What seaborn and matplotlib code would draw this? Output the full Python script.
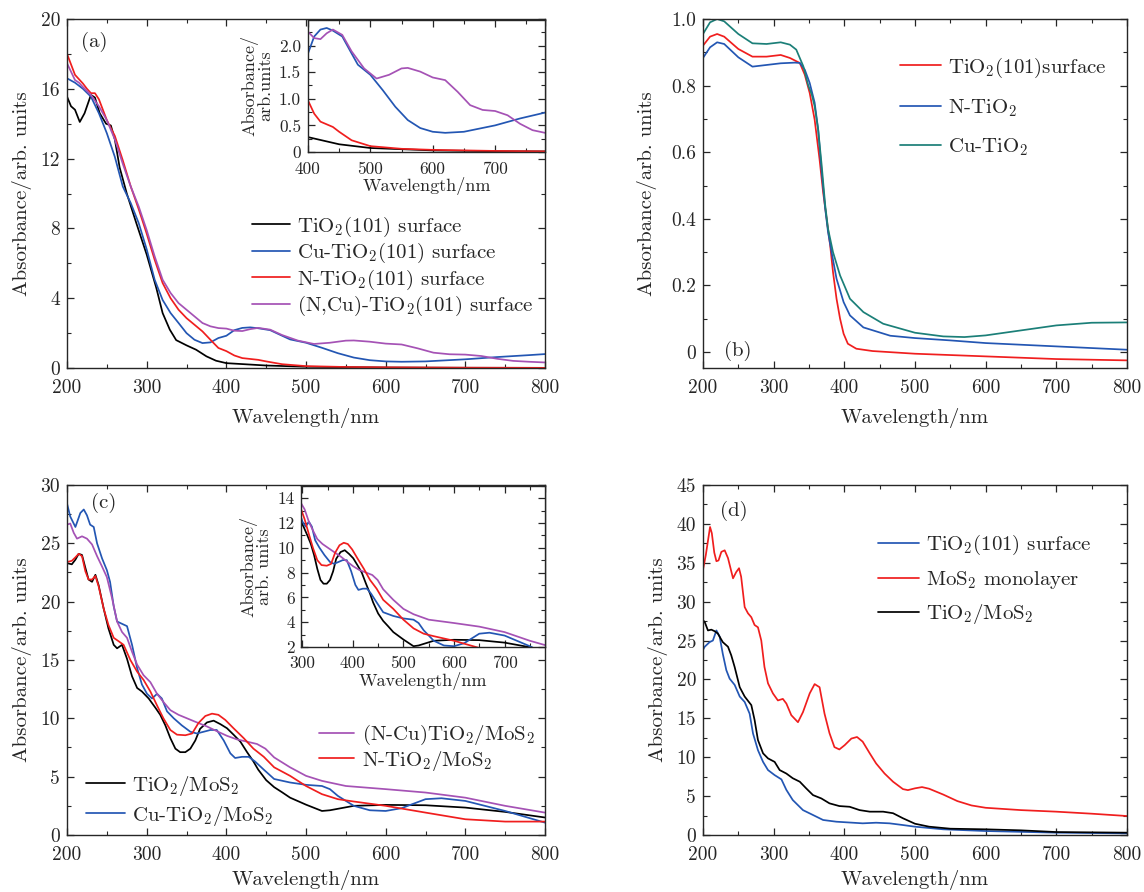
import numpy as np
import pandas as pd
import matplotlib
matplotlib.use("Agg")
import matplotlib.pyplot as plt
import seaborn as sns
from matplotlib.ticker import MultipleLocator, FuncFormatter

# ---------------- data: panel (a) ----------------
a_wl_black = [200, 205, 210, 216, 222, 230, 235, 241, 249, 255, 260, 266, 275, 287, 300, 312, 320, 329, 337, 350,
              362, 375, 387, 400, 450, 500, 600, 700, 800]
a_black = [15.55, 15.0, 14.8, 14.1, 14.6, 15.65, 15.5, 14.6, 14.0, 13.9, 13.1, 11.5, 10.0, 8.3, 6.5, 4.6, 3.15, 2.2,
           1.6, 1.3, 1.05, 0.67, 0.42, 0.28, 0.145, 0.075, 0.03, 0.015, 0.01]

a_wl_red = [200, 210, 220, 225, 230, 235, 240, 250, 260, 270, 280, 290, 300, 310, 320, 330, 340, 350, 360, 370, 380,
            390, 400, 410, 420, 440, 450, 470, 500, 550, 600, 700, 800]
a_red = [18.0, 16.8, 16.3, 16.0, 15.75, 15.75, 15.4, 14.2, 13.3, 11.9, 10.4, 9.1, 7.7, 6.2, 4.87, 4.0, 3.34, 2.86,
         2.48, 2.1, 1.62, 1.15, 0.97, 0.72, 0.57, 0.47, 0.38, 0.22, 0.11, 0.06, 0.04, 0.02, 0.01]

a_wl_blue = [200, 210, 220, 230, 240, 250, 260, 270, 280, 290, 300, 310, 320, 330, 340, 350, 360, 370, 380, 390, 400,
             410, 420, 430, 440, 455, 470, 480, 500, 520, 540, 560, 580, 600, 620, 650, 700, 740, 780, 800]
a_blue = [16.6, 16.35, 16.0, 15.55, 14.6, 13.45, 12.1, 10.4, 9.45, 8.3, 6.8, 5.06, 3.9, 3.15, 2.58, 2.0, 1.62, 1.43,
          1.47, 1.72, 1.85, 2.17, 2.30, 2.33, 2.28, 2.17, 1.85, 1.64, 1.45, 1.16, 0.85, 0.60, 0.45, 0.38, 0.36, 0.38,
          0.50, 0.63, 0.74, 0.80]

a_wl_purple = [200, 210, 215, 220, 230, 240, 250, 260, 270, 280, 290, 300, 310, 320, 330, 340, 350, 360, 370, 380,
               390, 400, 410, 420, 430, 440, 455, 470, 490, 510, 530, 550, 560, 580, 600, 620, 640, 660, 680, 700,
               720, 740, 760, 780, 800]
a_purple = [17.46, 16.5, 16.35, 16.1, 15.65, 15.0, 14.2, 13.1, 11.7, 10.4, 9.25, 7.9, 6.4, 5.06, 4.3, 3.72, 3.34,
            2.96, 2.58, 2.39, 2.29, 2.26, 2.14, 2.12, 2.23, 2.30, 2.2, 1.89, 1.57, 1.38, 1.45, 1.57, 1.58, 1.51, 1.40,
            1.35, 1.13, 0.88, 0.79, 0.77, 0.69, 0.53, 0.41, 0.36, 0.32]

a_labels = ["TiO$_2$(101) surface", "Cu-TiO$_2$(101) surface", "N-TiO$_2$(101) surface",
            "(N,Cu)-TiO$_2$(101) surface"]

# ---------------- data: panel (b) ----------------
b_wl_red = [200, 210, 220, 230, 250, 270, 290, 310, 323, 337, 344, 351, 358, 365, 370, 375, 380, 384, 389, 394, 399,
            405, 417, 440, 500, 600, 700, 800]
b_red = [0.92, 0.947, 0.955, 0.947, 0.91, 0.887, 0.887, 0.892, 0.883, 0.868, 0.833, 0.778, 0.698, 0.578, 0.48, 0.40,
         0.32, 0.24, 0.16, 0.10, 0.055, 0.025, 0.01, 0.003, -0.005, -0.013, -0.021, -0.025]

b_wl_blue = [200, 210, 220, 230, 250, 270, 290, 310, 330, 337, 344, 351, 358, 363, 368, 373, 377, 382, 389, 399, 408,
             427, 465, 500, 550, 600, 700, 800]
b_blue = [0.883, 0.915, 0.93, 0.925, 0.885, 0.857, 0.862, 0.867, 0.869, 0.868, 0.848, 0.808, 0.749, 0.668, 0.54,
          0.43, 0.36, 0.30, 0.22, 0.15, 0.11, 0.074, 0.049, 0.042, 0.035, 0.027, 0.017, 0.007]

b_wl_teal = [200, 210, 220, 230, 250, 270, 290, 310, 323, 332, 342, 349, 354, 358, 363, 368, 373, 377, 384, 394, 408,
             427, 455, 500, 540, 570, 600, 650, 700, 750, 800]
b_teal = [0.955, 0.99, 1.0, 0.993, 0.955, 0.927, 0.925, 0.93, 0.923, 0.908, 0.858, 0.80, 0.773, 0.738, 0.668, 0.56,
          0.44, 0.37, 0.30, 0.23, 0.16, 0.12, 0.085, 0.058, 0.047, 0.045, 0.05, 0.065, 0.08, 0.088, 0.089]

b_labels = ["TiO$_2$(101)surface", "N-TiO$_2$", "Cu-TiO$_2$"]

# ---------------- data: panel (c) ----------------
c_wl_black = [200, 206, 210.5, 214.6, 218.8, 223, 227, 231.4, 235.6, 239.7, 246, 252, 258.6, 262.8, 269, 275.3,
              281.6, 288, 294, 302.5, 311, 317, 323.4, 329.7, 336, 342, 348.5, 354.8, 361, 367, 375.7, 384, 392.5,
              400.8, 409, 417.6, 426, 434, 440, 450, 460, 470, 480, 500, 520, 530, 560, 600, 650, 700, 750, 800]
c_black = [23.3, 23.2, 23.6, 24.1, 24.0, 22.9, 21.9, 21.7, 22.3, 21.4, 19.4, 17.7, 16.3, 16.0, 16.3, 15.1, 13.6, 12.6,
           12.3, 11.7, 10.9, 10.3, 9.4, 8.3, 7.4, 7.1, 7.1, 7.4, 8.1, 9.1, 9.65, 9.8, 9.5, 9.15, 8.6, 8.0, 7.1, 6.3,
           5.6, 4.7, 4.1, 3.66, 3.2, 2.6, 2.06, 2.12, 2.5, 2.58, 2.55, 2.35, 1.98, 1.5]

c_wl_red = [200, 206, 210.5, 214.6, 218.8, 223, 227, 231.4, 235.6, 239.7, 246, 252, 258.6, 264.9, 271, 279.5, 288,
            296, 304.6, 313, 321, 329.7, 338, 348.5, 357, 365, 373.6, 382, 390, 398.7, 409, 421.8, 434, 447, 460,
            480, 500, 520, 540, 560, 600, 650, 700, 750, 800]
c_red = [23.4, 23.5, 23.8, 24.1, 23.9, 22.6, 21.9, 21.9, 22.2, 21.3, 19.4, 18.0, 16.9, 16.6, 16.3, 15.0, 14.0, 13.3,
         12.3, 11.1, 10.0, 9.0, 8.6, 8.55, 8.7, 9.6, 10.2, 10.4, 10.3, 9.86, 9.15, 8.3, 7.4, 6.7, 5.8, 5.07, 4.2, 3.5,
         3.07, 2.87, 2.5, 1.92, 1.35, 1.15, 1.15]

c_wl_blue = [200, 204, 210.5, 216.7, 221, 225, 229, 233.5, 237.7, 244, 250, 254, 258.6, 262.8, 269, 275.3, 281.6, 288,
             294, 300.4, 306.7, 313, 319, 325.5, 334, 344, 354.8, 363, 371.5, 380, 388, 396.7, 405, 411, 419.7, 428,
             436, 447, 460, 480, 500, 520, 530, 540, 560, 580, 600, 620, 650, 670, 700, 750, 800]
c_blue = [28.4, 27.3, 26.4, 27.6, 27.9, 27.4, 26.6, 26.4, 25.0, 23.7, 22.7, 21.7, 19.6, 18.3, 18.1, 17.9, 16.3, 14.3,
          12.9, 12.1, 11.7, 12.1, 11.7, 10.6, 10.0, 9.4, 8.85, 8.7, 8.85, 9.0, 9.0, 8.1, 7.0, 6.6, 6.7, 6.7, 6.3, 5.6,
          4.8, 4.5, 4.3, 4.2, 3.93, 3.35, 2.5, 2.12, 2.06, 2.3, 3.07, 3.15, 2.92, 2.06, 1.06]

c_wl_purple = [200, 204, 208.4, 212.5, 218.8, 225, 231.4, 237.7, 244, 250, 256.5, 262.8, 269, 275.3, 281.6, 288, 296,
               304.6, 313, 321, 329.7, 340, 350.6, 363, 375.7, 388, 400.8, 413, 426, 438.5, 449, 460, 480, 500, 520,
               550, 600, 650, 700, 750, 800]
c_purple = [26.6, 26.7, 25.9, 25.4, 25.6, 25.4, 24.9, 23.9, 23.0, 22.1, 20.3, 18.3, 17.4, 16.9, 15.7, 14.6, 13.7,
            13.1, 12.1, 11.4, 10.7, 10.3, 10.0, 9.65, 9.3, 8.9, 8.5, 8.2, 8.0, 7.8, 7.4, 6.65, 5.8, 5.07, 4.64, 4.2,
            3.93, 3.64, 3.2, 2.5, 1.92]

c_labels = ["TiO$_2$/MoS$_2$", "Cu-TiO$_2$/MoS$_2$", "(N-Cu)TiO$_2$/MoS$_2$", "N-TiO$_2$/MoS$_2$"]

# ---------------- data: panel (d) ----------------
d_wl_red = [200, 204, 207, 210, 212.5, 216, 219, 222, 226, 230.7, 235.4, 242.5, 247, 251, 254, 259, 263.7, 268.4, 273,
            277.8, 282.5, 287, 292, 299, 306, 313, 318, 325, 334.4, 341.5, 351, 358, 365, 372, 379, 386, 393, 400.5,
            410, 418, 426, 436, 445, 457, 469, 483, 490, 500, 510, 520, 540, 560, 580, 600, 650, 700, 750, 800]
d_red = [34.1, 36.0, 37.8, 39.6, 38.8, 36.3, 35.2, 35.3, 36.4, 36.6, 35.6, 33.0, 33.8, 34.3, 33.2, 29.3, 28.5, 28.0,
         27.0, 26.7, 25.0, 21.6, 19.5, 18.2, 17.3, 17.5, 16.9, 15.4, 14.5, 15.8, 18.2, 19.4, 19.0, 15.6, 13.1, 11.3,
         11.0, 11.55, 12.4, 12.6, 12.0, 10.5, 9.2, 7.9, 6.85, 5.9, 5.77, 6.0, 6.16, 5.95, 5.2, 4.36, 3.8, 3.5, 3.2,
         3.0, 2.74, 2.44]

d_wl_blue = [200, 202.4, 209.4, 214, 219, 223.6, 228, 233, 237.7, 244.8, 252, 259, 266, 270.8, 277.8, 285, 292, 301.4,
             311, 318, 327, 341.5, 355.7, 370, 388.7, 412, 426, 445, 464, 483, 500, 540, 600, 700, 800]
d_blue = [23.8, 24.2, 24.8, 25.0, 26.3, 25.5, 23.3, 21.2, 20.1, 19.3, 17.8, 17.1, 15.6, 13.05, 10.9, 9.4, 8.35, 7.7,
          7.15, 5.8, 4.5, 3.2, 2.57, 1.93, 1.71, 1.58, 1.5, 1.58, 1.5, 1.28, 1.07, 0.73, 0.51, 0.3, 0.21]

d_wl_black = [200, 202.4, 207, 211.8, 216.5, 221, 228, 235.4, 240, 244.8, 252, 259, 268.4, 273, 277.8, 285, 292,
              301.4, 308.5, 318, 327, 337, 346, 355.7, 367.5, 379, 393, 407.5, 421.7, 436, 455, 469, 483, 500, 520,
              550, 600, 650, 700, 800]
d_black = [27.6, 27.4, 26.3, 26.4, 26.2, 25.9, 24.8, 24.2, 23.1, 21.6, 19.0, 17.8, 16.7, 14.8, 12.2, 10.5, 9.85, 9.4,
           8.35, 7.9, 7.3, 6.85, 6.0, 5.13, 4.7, 4.07, 3.72, 3.63, 3.2, 3.0, 3.0, 2.8, 2.15, 1.45, 1.07, 0.81, 0.73,
           0.6, 0.38, 0.3]

d_labels = ["TiO$_2$(101) surface", "MoS$_2$ monolayer", "TiO$_2$/MoS$_2$"]

# ---------------- style ----------------
sns.set_style("ticks")
plt.rcParams["font.family"] = ["cmr10", "DejaVu Serif"]
plt.rcParams["mathtext.fontset"] = "cm"
plt.rcParams["axes.formatter.use_mathtext"] = True
plt.rcParams["axes.unicode_minus"] = False

BLACK = "#000000"
BLUE = "#2356b3"
RED = "#f01e1e"
PURPLE = "#a552b5"
TEAL = "#1b7f78"
LW = 1.25

TICK_FS = 14
LAB_FS = 15
LEG_FS = 15
INS_FS = 12.5

fig = plt.figure(figsize=(11.44, 8.92), dpi=100)


def draw(ax, wl, vals, color):
    df = pd.DataFrame({"wl": wl, "val": vals})
    sns.lineplot(data=df, x="wl", y="val", ax=ax, color=color, lw=LW, estimator=None, sort=True, legend=False)
    line = ax.lines[-1]
    line.set_solid_joinstyle("round")
    return line


def make_fmt(dec):
    def f(v, pos):
        if abs(v) < 1e-9:
            return "0"
        return f"{v:.{dec}f}"
    return FuncFormatter(f)


def style(ax, ylim, ymaj, ymin, ydec=0, xlim=(200, 800), xmaj=100, xmin=50, fs=TICK_FS, xpad=8, ypad=5):
    ax.set_xlim(*xlim)
    ax.set_ylim(*ylim)
    ax.xaxis.set_major_locator(MultipleLocator(xmaj))
    ax.xaxis.set_minor_locator(MultipleLocator(xmin))
    ax.yaxis.set_major_locator(MultipleLocator(ymaj))
    ax.yaxis.set_minor_locator(MultipleLocator(ymin))
    ax.yaxis.set_major_formatter(make_fmt(ydec))
    ax.xaxis.set_major_formatter(make_fmt(0))
    ax.tick_params(which="both", direction="in", top=True, right=True)
    ax.tick_params(which="major", length=5, width=0.9, labelsize=fs)
    ax.tick_params(which="minor", length=3, width=0.8)
    ax.tick_params(axis="x", which="major", pad=xpad)
    ax.tick_params(axis="y", which="major", pad=ypad)
    for s in ax.spines.values():
        s.set_linewidth(1.0)
        s.set_visible(True)


def legend(ax, handles, labels, anchor, hl, ls):
    return ax.legend(handles, labels, loc="upper left", bbox_to_anchor=anchor, frameon=False, fontsize=LEG_FS,
                     handlelength=hl, handletextpad=0.35, labelspacing=ls, borderaxespad=0, borderpad=0)


# ---------------- panel (a) ----------------
axA = fig.add_axes([0.0586, 0.5874, 0.4178, 0.3913])
hA = [draw(axA, a_wl_black, a_black, BLACK), draw(axA, a_wl_blue, a_blue, BLUE),
      draw(axA, a_wl_red, a_red, RED), draw(axA, a_wl_purple, a_purple, PURPLE)]
style(axA, (0, 20), 4, 2)
axA.set_xlabel("Wavelength/nm", fontsize=LAB_FS, labelpad=8)
axA.set_ylabel("Absorbance/arb. units", fontsize=LAB_FS, labelpad=6)
axA.text(0.03, 0.935, "(a)", transform=axA.transAxes, fontsize=LAB_FS, va="center", ha="left")
legend(axA, hA, a_labels, (0.387, 0.44), 1.8, 0.12)

insA = fig.add_axes([0.2692, 0.8296, 0.2072, 0.148])
insA.set_facecolor("white")
draw(insA, a_wl_black, a_black, BLACK)
draw(insA, a_wl_blue, a_blue, BLUE)
draw(insA, a_wl_red, a_red, RED)
draw(insA, a_wl_purple, a_purple, PURPLE)
style(insA, (0, 2.48), 0.5, 0.25, ydec=1, xlim=(400, 780), fs=INS_FS, xpad=7, ypad=5)
insA.set_xlabel("Wavelength/nm", fontsize=INS_FS + 0.5, labelpad=0)
insA.set_ylabel("Absorbance/\narb.units", fontsize=INS_FS + 0.5, labelpad=4, linespacing=0.95)

# ---------------- panel (b) ----------------
axB = fig.add_axes([0.6145, 0.5874, 0.3706, 0.3913])
hB = [draw(axB, b_wl_red, b_red, RED), draw(axB, b_wl_blue, b_blue, BLUE), draw(axB, b_wl_teal, b_teal, TEAL)]
style(axB, (-0.048, 1.0), 0.2, 0.1, ydec=1)
axB.set_xlabel("Wavelength/nm", fontsize=LAB_FS, labelpad=8)
axB.set_ylabel("Absorbance/arb. units", fontsize=LAB_FS, labelpad=10)
axB.text(0.05, 0.05, "(b)", transform=axB.transAxes, fontsize=LAB_FS, va="center", ha="left")
legend(axB, hB, b_labels, (0.465, 0.895), 1.95, 0.85)

# ---------------- panel (c) ----------------
axC = fig.add_axes([0.0586, 0.0639, 0.4178, 0.3924])
hC = [draw(axC, c_wl_black, c_black, BLACK), draw(axC, c_wl_blue, c_blue, BLUE),
      draw(axC, c_wl_purple, c_purple, PURPLE), draw(axC, c_wl_red, c_red, RED)]
style(axC, (0, 30), 5, 2.5)
axC.set_xlabel("Wavelength/nm", fontsize=LAB_FS, labelpad=4)
axC.set_ylabel("Absorbance/arb. units", fontsize=LAB_FS, labelpad=6)
axC.text(0.05, 0.95, "(c)", transform=axC.transAxes, fontsize=LAB_FS, va="center", ha="left")
legC1 = legend(axC, hC[:2], c_labels[:2], (0.04, 0.175), 1.85, 0.28)
axC.add_artist(legC1)
legend(axC, hC[2:], c_labels[2:], (0.527, 0.32), 1.7, 0.08)

insC = fig.add_axes([0.2629, 0.2747, 0.2135, 0.1808])
insC.set_facecolor("white")
draw(insC, c_wl_black, c_black, BLACK)
draw(insC, c_wl_blue, c_blue, BLUE)
draw(insC, c_wl_purple, c_purple, PURPLE)
draw(insC, c_wl_red, c_red, RED)
style(insC, (2, 15), 2, 1, xlim=(297, 780), fs=INS_FS, xpad=6, ypad=4)
insC.set_xlabel("Wavelength/nm", fontsize=INS_FS + 0.5, labelpad=1)
insC.set_ylabel("Absorbance/\narb. units", fontsize=INS_FS + 0.5, labelpad=4, linespacing=0.95)

# ---------------- panel (d) ----------------
axD = fig.add_axes([0.6145, 0.0639, 0.3706, 0.3924])
hD = [draw(axD, d_wl_blue, d_blue, BLUE), draw(axD, d_wl_red, d_red, RED), draw(axD, d_wl_black, d_black, BLACK)]
style(axD, (0, 45), 5, 2.5)
axD.set_xlabel("Wavelength/nm", fontsize=LAB_FS, labelpad=4)
axD.set_ylabel("Absorbance/arb. units", fontsize=LAB_FS, labelpad=6)
axD.text(0.04, 0.925, "(d)", transform=axD.transAxes, fontsize=LAB_FS, va="center", ha="left")
legend(axD, hD, d_labels, (0.413, 0.862), 1.95, 0.55)

fig.savefig("out.png", dpi=100)
